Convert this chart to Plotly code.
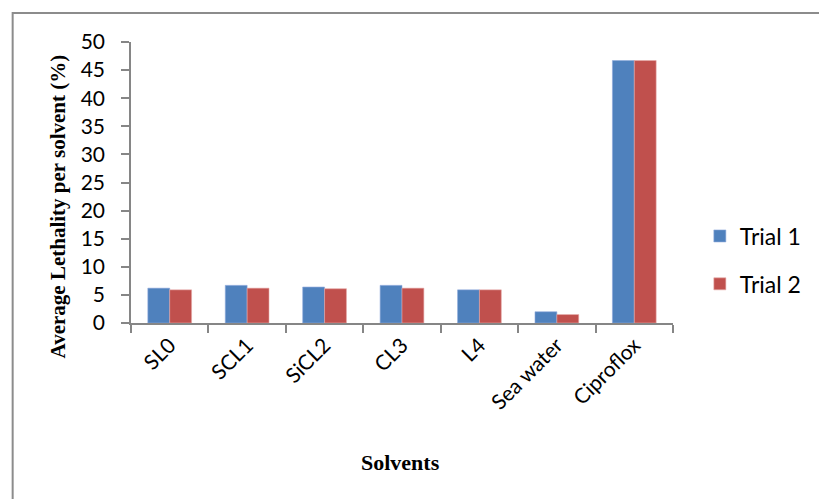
import plotly.graph_objects as go

solvents = ["SL0", "SCL1", "SiCL2", "CL3", "L4", "Sea water", "Ciproflox"]
trial_1 = [6.2, 6.7, 6.4, 6.7, 5.9, 2.0, 46.7]
trial_2 = [5.9, 6.2, 6.1, 6.2, 5.9, 1.5, 46.7]
y_ticks = [0, 5, 10, 15, 20, 25, 30, 35, 40, 45, 50]

BLUE = "#4F81BD"
RED = "#C0504D"
AXIS_GREY = "#868686"
SANS = "Lato, Open Sans, sans-serif"
TICK_FONT = dict(family=SANS, size=21, color="black")
LEGEND_FONT = dict(family=SANS, size=23, color="black")
SERIF = "Liberation Serif, Times New Roman, serif"

fig = go.Figure()
fig.add_trace(go.Bar(x=solvents, y=trial_1, name="Trial 1", marker_color=BLUE,
                     marker_line=dict(color="#8EAADB", width=0.6), legendgroup="t1"))
fig.add_trace(go.Bar(x=solvents, y=trial_2, name="Trial 2", marker_color=RED,
                     marker_line=dict(color="#E6A9A7", width=0.6), legendgroup="t2"))

L, R, T, B = 131, 143, 42, 176
W, H = 819, 499
pw, ph = W - L - R, H - T - B

def px_to_paper(px, py):
    return (px - L) / pw, (H - B - py) / ph

# outer chart frame
x0, y0 = px_to_paper(12, 13)
x1, y1 = px_to_paper(830, 510)
fig.add_shape(type="rect", xref="paper", yref="paper", x0=x0, y0=y1, x1=x1, y1=y0,
              line=dict(color="#8C8C8C", width=2), fillcolor="rgba(0,0,0,0)", layer="below")

# axis titles
tx, ty = px_to_paper(58, 206)
fig.add_annotation(text="<b>Average Lethality per solvent (%)</b>", xref="paper", yref="paper",
                   x=tx, y=ty, xanchor="center", yanchor="middle", textangle=-90, showarrow=False,
                   font=dict(family=SERIF, size=21, color="black"))
sx, sy = px_to_paper(402, 462)
fig.add_annotation(text="<b>Solvents</b>", xref="paper", yref="paper",
                   x=sx, y=sy, xanchor="center", yanchor="middle", showarrow=False,
                   font=dict(family=SERIF, size=22, color="black"))

lx, ly = px_to_paper(703, 260)
fig.update_layout(
    width=W, height=H,
    margin=dict(l=L, r=R, t=T, b=B),
    paper_bgcolor="white", plot_bgcolor="white",
    barmode="group", bargap=0.435, bargroupgap=0,
    showlegend=True,
    legend=dict(x=lx, y=ly, xanchor="left", yanchor="middle",
                font=LEGEND_FONT, traceorder="grouped", tracegroupgap=15,
                itemwidth=30, bgcolor="rgba(0,0,0,0)"),
    xaxis=dict(type="category", showline=True, linecolor=AXIS_GREY, linewidth=1.5,
               ticks="outside", tickson="boundaries", ticklen=8, tickcolor=AXIS_GREY, tickwidth=1.5,
               tickangle=-45, tickfont=TICK_FONT, showgrid=False, zeroline=False),
    yaxis=dict(range=[0, 50], tickvals=y_ticks, showline=True, linecolor=AXIS_GREY, linewidth=1.5,
               ticks="outside", ticklen=8, tickcolor=AXIS_GREY, tickwidth=1.5,
               tickfont=TICK_FONT, showgrid=False, zeroline=False, ticklabelstandoff=12),
)

fig.write_html("out.html")
